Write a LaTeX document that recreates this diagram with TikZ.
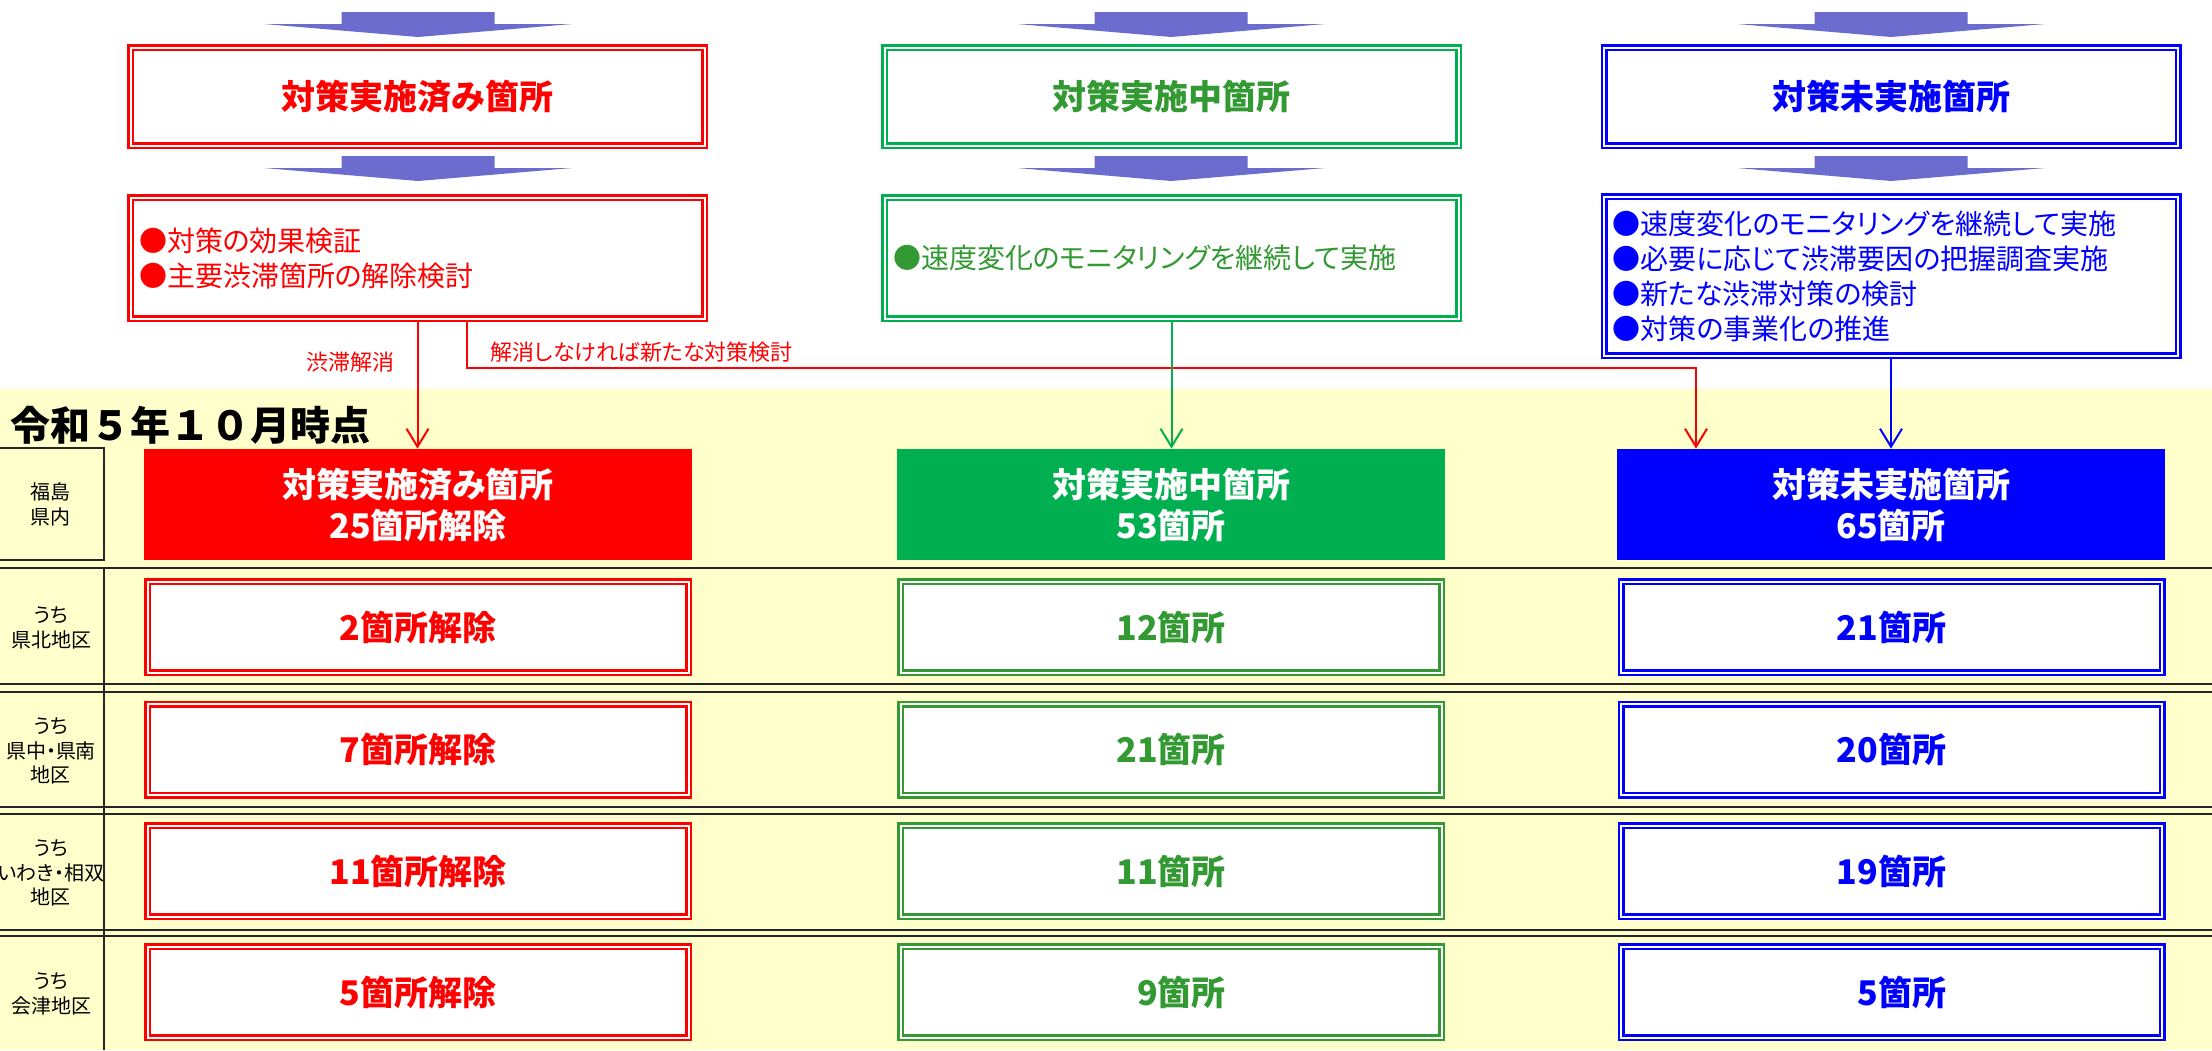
\documentclass[tikz,border=0pt]{standalone}
\usepackage{fontspec}
\setmainfont{Noto Sans CJK JP}[RawFeature=+palt]
\newfontfamily\jpfull{Noto Sans CJK JP}
\usetikzlibrary{arrows.meta,calc}
\definecolor{cred}{RGB}{255,0,0}
\definecolor{cgreen}{RGB}{51,153,51}
\definecolor{cgreenb}{RGB}{0,176,80}
\definecolor{cblue}{RGB}{0,0,255}
\definecolor{carrow}{RGB}{107,108,206}
\definecolor{cyellow}{RGB}{255,255,204}
\definecolor{cline}{RGB}{38,38,38}
\begin{document}
\begin{tikzpicture}[x=0.5pt,y=-0.5pt,
  dbox/.style={draw=#1, line width=1.25pt, double=white, double distance=1pt, outer sep=1.75pt, inner sep=0pt, fill=white},
  title/.style={font=\bfseries\fontsize{17pt}{20pt}\selectfont},
  body/.style={font=\fontsize{14pt}{17.5pt}\selectfont, align=left, text width=278.5pt, inner xsep=4.25pt},
  fbox/.style={fill=#1, text=white, minimum width=274pt, minimum height=55.5pt, align=center, inner sep=0pt, font=\bfseries\fontsize{17pt}{20.5pt}\selectfont},
  lbox/.style={dbox=#1, minimum width=270.5pt, minimum height=45.5pt, font=\bfseries\fontsize{17pt}{20pt}\selectfont},
  rowlabel/.style={font=\fontsize{10pt}{12.25pt}\selectfont, align=center, inner sep=0pt},
  tline/.style={draw=cline, line width=0.75pt},
  conn/.style={draw=#1, line width=1pt, -{Straight Barb[length=9pt,width=11pt]}},
  lbl/.style={text=cred, font=\fontsize{11pt}{13pt}\selectfont, inner sep=0pt},
  fatarrow/.pic={\fill[carrow] (-76.5,0) -- (76.5,0) -- (76.5,12) -- (154,12) -- (0,25) -- (-154,12) -- (-76.5,12) -- cycle;}
]
\useasboundingbox (0,0) rectangle (2212,1050);
\fill[white] (0,0) rectangle (2212,1050);
\fill[cyellow] (0,389) rectangle (2212,1050);

% table lines
\draw[tline] (0,448) -- (104,448) -- (104,560) -- (0,560);
\foreach \yy in {568,684,692,807,814,930,936} \draw[tline] (0,\yy) -- (2212,\yy);
\draw[tline] (104,568) -- (104,1050);

% fat arrows
\foreach \xx in {418,1171,1891} { \pic at (\xx,12) {fatarrow}; \pic at (\xx,156) {fatarrow}; }

% top boxes
\node[dbox=cred, minimum width=287pt, minimum height=49pt, text=cred, title] (t1) at (417.5,96.5) {対策実施済み箇所};
\node[dbox=cgreenb, minimum width=287pt, minimum height=49pt, text=cgreen, title] (t2) at (1171.5,96.5) {対策実施中箇所};
\node[dbox=cblue, minimum width=287pt, minimum height=49pt, text=cblue, title] (t3) at (1891,96.5) {対策未実施箇所};

% description boxes
\node[dbox=cred, minimum width=287pt, minimum height=60.5pt, text=cred, body] (d1) at (417.5,258) {●対策の効果検証\\●主要渋滞箇所の解除検討};
\node[dbox=cgreenb, minimum width=287pt, minimum height=60.5pt, text=cgreen, body] (d2) at (1171.5,258) {●速度変化のモニタリングを継続して実施};
\node[dbox=cblue, minimum width=287pt, minimum height=79.5pt, text=cblue, body] (d3) at (1891,276) {●速度変化のモニタリングを継続して実施\\●必要に応じて渋滞要因の把握調査実施\\●新たな渋滞対策の検討\\●対策の事業化の推進};

% date
\node[anchor=west, inner sep=0pt, font=\jpfull\bfseries\fontsize{20pt}{24pt}\selectfont] (date) at (10,425) {令和５年１０月時点};

% filled boxes
\node[fbox=cred] (f1) at (418,504.5) {対策実施済み箇所\\25箇所解除};
\node[fbox=cgreenb] (f2) at (1171,504.5) {対策実施中箇所\\53箇所};
\node[fbox=cblue] (f3) at (1891,504.5) {対策未実施箇所\\65箇所};

% row labels
\node[rowlabel] (L1) at (51,504.5) {福島\\県内};
\node[rowlabel] (L2) at (51,628) {うち\\県北地区};
\node[rowlabel] (L3) at (51,751) {うち\\県中・県南\\地区};
\node[rowlabel] (L4) at (51,873) {うち\\いわき・相双\\地区};
\node[rowlabel] (L5) at (51,994) {うち\\会津地区};

% lower boxes
\node[lbox=cred, text=cred] (a2) at (418,627) {2箇所解除};
\node[lbox=cred, text=cred] (a3) at (418,749.5) {7箇所解除};
\node[lbox=cred, text=cred] (a4) at (418,871) {11箇所解除};
\node[lbox=cred, text=cred] (a5) at (418,992) {5箇所解除};
\node[lbox=cgreen, text=cgreen] (b2) at (1171,627) {12箇所};
\node[lbox=cgreen, text=cgreen] (b3) at (1171,749.5) {21箇所};
\node[lbox=cgreen, text=cgreen] (b4) at (1171,871) {11箇所};
\node[lbox=cgreen, text=cgreen] (b5) at (1171,992) {\hphantom{1}9箇所};
\node[lbox=cblue, text=cblue] (c2) at (1891.5,627) {21箇所};
\node[lbox=cblue, text=cblue] (c3) at (1891.5,749.5) {20箇所};
\node[lbox=cblue, text=cblue] (c4) at (1891.5,871) {19箇所};
\node[lbox=cblue, text=cblue] (c5) at (1891.5,992) {\hphantom{1}5箇所};

% connectors
\coordinate (turn) at (1696,368);
\draw[conn=cred] (d1.south) -- (d1.south |- f1.north);
\draw[conn=cred] ([xshift=24.75pt]d1.south) |- (turn) -- (turn |- f3.north);
\draw[conn=cgreenb] (d2.south) -- (d2.south |- f2.north);
\draw[conn=cblue] (d3.south) -- (d3.south |- f3.north);

% connector labels
\node[lbl, anchor=east] (lab1) at (395,362) {渋滞解消};
\node[lbl, anchor=west] (lab2) at (490,352) {解消しなければ新たな対策検討};
\end{tikzpicture}
\end{document}
